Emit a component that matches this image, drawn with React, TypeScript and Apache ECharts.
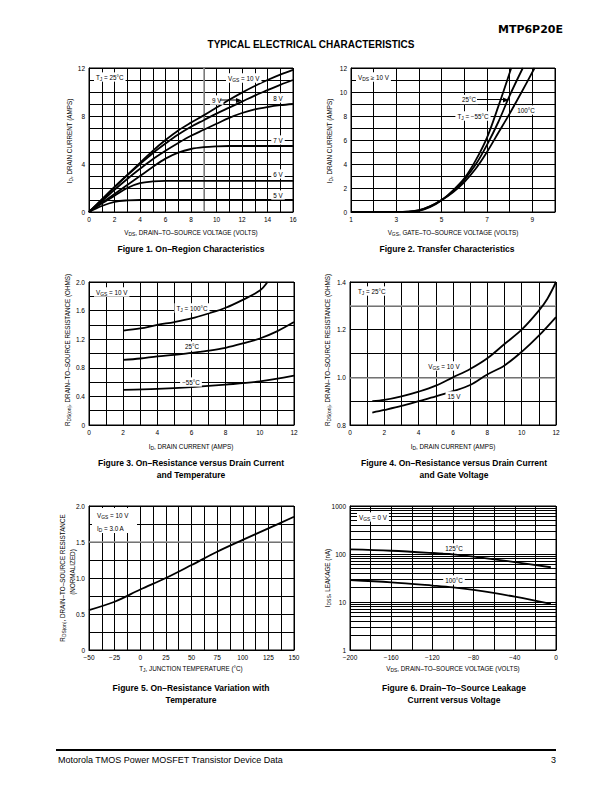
import React, { useEffect, useRef } from 'react';
import * as echarts from 'echarts';

const FONT = '"Liberation Sans", Arial, Helvetica, sans-serif';

// ---------- Figure 1: On-Region Characteristics (VDS [V], ID [A])
const f1_vgs10 = [[0,0],[1,1.05],[2,2.1],[3,3.1],[4,4.1],[5,5.1],[6,6.0],[7,6.8],[8,7.45],[9,8.05],[10,8.7],[11,9.35],[12,9.95],[13,10.5],[14,11.0],[15,11.45],[16,11.85]];
const f1_vgs9 = [[0,0],[1,1.0],[2,2.05],[3,3.05],[4,4.0],[5,4.9],[6,5.7],[7,6.45],[8,7.1],[9,7.65],[10,8.2],[11,8.7],[12,9.2],[13,9.7],[14,10.15],[15,10.6],[16,11.0]];
const f1_vgs8 = [[0,0],[1,0.9],[2,1.85],[3,2.75],[4,3.6],[5,4.4],[6,5.1],[7,5.75],[8,6.35],[9,6.85],[10,7.35],[11,7.85],[12,8.25],[13,8.55],[14,8.75],[15,8.9],[16,9.0]];
const f1_vgs7 = [[0,0],[1,0.75],[2,1.5],[3,2.25],[4,3.0],[5,3.75],[6,4.45],[7,4.95],[8,5.25],[9,5.4],[10,5.47],[11,5.5],[12,5.5],[14,5.5],[16,5.5]];
const f1_vgs6 = [[0,0],[1,0.7],[2,1.35],[3,2.0],[4,2.4],[5,2.55],[6,2.6],[8,2.6],[12,2.6],[16,2.6]];
const f1_vgs5 = [[0,0],[1,0.5],[2,0.85],[3,0.97],[4,1.0],[6,1.0],[10,1.0],[16,1.0]];
const f1_grayVds = 9;

// ---------- Figure 2: Transfer Characteristics (VGS [V], ID [A])
const f2_tjM55 = [[1,0],[2,0],[3,0],[3.5,0.01],[4,0.1],[4.5,0.42],[5,0.98],[5.5,1.8],[6,2.8],[6.5,4.3],[7,6.2],[7.5,8.8],[8.07,12]];
const f2_tj25 = [[1,0],[2,0],[3,0],[3.5,0.02],[4,0.13],[4.5,0.47],[5,1.0],[5.5,1.72],[6,2.7],[6.5,3.95],[7,5.6],[7.5,7.5],[8,9.7],[8.58,12]];
const f2_tj100 = [[1,0],[2,0],[3,0],[3.5,0.03],[4,0.16],[4.5,0.5],[5,1.0],[5.5,1.65],[6,2.5],[6.5,3.6],[7,5.0],[7.5,6.6],[8,8.2],[8.5,9.9],[9.1,12]];

// ---------- Figure 3: RDS(on) vs ID and temperature
const f3_tj100 = [[2,1.32],[3,1.35],[4,1.4],[5,1.44],[6,1.49],[7,1.56],[8,1.64],[9,1.75],[10,1.88],[10.45,2.0]];
const f3_tj25 = [[2,0.91],[3,0.93],[4,0.96],[5,0.98],[6,1.01],[7,1.04],[8,1.08],[9,1.14],[10,1.21],[11,1.31],[12,1.44]];
const f3_tjM55 = [[2,0.49],[4,0.505],[6,0.53],[8,0.565],[10,0.61],[12,0.69]];

// ---------- Figure 4: RDS(on) vs ID and gate voltage
const f4_vgs10 = [[1.3,0.9],[2,0.905],[3,0.92],[4,0.94],[5,0.965],[6,1.0],[7,1.035],[8,1.08],[9,1.14],[10,1.2],[11,1.28],[11.5,1.33],[12,1.4]];
const f4_vgs15 = [[1.3,0.852],[2,0.863],[3,0.88],[4,0.9],[5,0.92],[6,0.942],[7,0.968],[8,1.012],[9,1.05],[10,1.107],[11,1.175],[12,1.253]];
const f4_grayLines = [1.3, 1.0];

// ---------- Figure 5: normalized RDS(on) vs TJ
const f5_tj = [-50,-25,0,25,50,75,100,125,150];
const f5_rds = [0.555,0.67,0.84,1.0,1.18,1.365,1.53,1.69,1.85];
const f5_grayLines = [1.5];

// ---------- Figure 6: IDSS leakage vs VDS
const f6_vds = [-200,-160,-120,-100,-80,-40,-5];
const f6_tj125 = [125,117,105,98,88,68,53];
const f6_tj100 = [28.7,25.6,22,20.2,17.8,12.9,9.1];
const f6_minorLines = [2,3,4,5,6,7,8,9,20,30,40,50,60,70,80,90,200,300,400,500,600,700,800,900];

const grids = [
  { left: 89, top: 68, width: 204, height: 144 },
  { left: 351, top: 68, width: 204, height: 144 },
  { left: 89, top: 282, width: 205, height: 143 },
  { left: 350, top: 282, width: 206, height: 143 },
  { left: 89, top: 506, width: 205, height: 144 },
  { left: 350, top: 506, width: 206, height: 144 },
];

const isMult = (v: number, step: number) => Math.abs(v / step - Math.round(v / step)) < 1e-6;
const minus = (v: number) => (v < 0 ? '\u2212' + String(-v) : String(v));

const tickLabel = { color: '#000', fontSize: 6.5, fontFamily: FONT };

function valAxis(gi: number, min: number, max: number, interval: number, fmt: (v: number) => string) {
  return {
    type: 'value', gridIndex: gi, min, max, interval,
    axisLine: { show: true, onZero: false, lineStyle: { color: '#000', width: 1 } },
    axisTick: { show: false },
    splitLine: { show: true, lineStyle: { color: '#000', width: 1 } },
    axisLabel: { ...tickLabel, margin: 4, formatter: fmt, showMinLabel: true, showMaxLabel: true },
  };
}

function line(gi: number, data: any, extra: any = {}) {
  return {
    type: 'line', xAxisIndex: gi, yAxisIndex: gi, data, showSymbol: false, symbol: 'none',
    smooth: 0.35, silent: true,
    lineStyle: { color: '#000', width: 1.8 }, z: 5, ...extra,
  };
}

function mark(lines: any[], color: string, width: number) {
  return {
    markLine: {
      silent: true, symbol: ['none', 'none'], label: { show: false },
      lineStyle: { color, width, type: 'solid' }, emphasis: { disabled: true },
      data: lines, animation: false,
    },
  };
}

const richFor = (size: number) => ({
  s: { fontSize: size * 0.78, fontFamily: FONT, verticalAlign: 'bottom', lineHeight: size * 0.78, fill: '#000' },
});

function txt(x: number, y: number, text: string, o: any = {}) {
  const size = o.size ?? 6.3;
  const align = o.align ?? 'center';
  return {
    type: 'text', x, y, rotation: o.rot ?? 0, z: 100,
    style: {
      text, fill: '#000', fontSize: size, fontFamily: o.family ?? FONT,
      fontWeight: o.bold ? 'bold' : 'normal',
      align, textAlign: align, verticalAlign: 'middle', textVerticalAlign: 'middle',
      lineHeight: size + 3,
      rich: richFor(size),
      backgroundColor: o.bg ? '#fff' : 'transparent',
      padding: o.bg ? [0, 2, 0, 2] : 0,
    },
  };
}

function arrow(x1: number, y: number, x2: number) {
  return [
    { type: 'line', z: 100, shape: { x1, y1: y, x2: x2 - 4, y2: y }, style: { stroke: '#000', lineWidth: 1 } },
    { type: 'polygon', z: 100, shape: { points: [[x2, y + 0.5], [x2 - 6, y - 2], [x2 - 6, y + 3]] }, style: { fill: '#000' } },
  ];
}

const R90 = Math.PI / 2;

export default function App() {
  const ref = useRef<HTMLDivElement>(null);
  useEffect(() => {
    if (!ref.current) return;
    const chart = echarts.init(ref.current, null, { renderer: 'svg' });

    const xAxis = [
      valAxis(0, 0, 16, 1, (v) => (isMult(v, 2) ? String(v) : '')),
      valAxis(1, 1, 10, 1, (v) => (v % 2 === 1 ? String(v) : '')),
      valAxis(2, 0, 12, 1, (v) => (isMult(v, 2) ? String(v) : '')),
      valAxis(3, 0, 12, 1, (v) => (isMult(v, 2) ? String(v) : '')),
      valAxis(4, -50, 150, 12.5, (v) => (isMult(v, 25) ? minus(v) : '')),
      valAxis(5, -200, 0, 20, (v) => (isMult(v, 40) ? minus(v) : '')),
    ];
    const yAxis: any[] = [
      valAxis(0, 0, 12, 1, (v) => (isMult(v, 4) ? String(v) : '')),
      valAxis(1, 0, 12, 1, (v) => (isMult(v, 2) ? String(v) : '')),
      valAxis(2, 0, 2, 0.2, (v) => (isMult(v, 0.4) ? (Math.abs(v) < 1e-9 ? '0' : v.toFixed(1)) : '')),
      valAxis(3, 0.8, 1.4, 0.1, (v) => (isMult(v, 0.2) ? v.toFixed(1) : '')),
      valAxis(4, 0, 2, 0.25, (v) => (isMult(v, 0.5) ? (Math.abs(v) < 1e-9 ? '0' : v.toFixed(1)) : '')),
      {
        type: 'log', logBase: 10, gridIndex: 5, min: 1, max: 1000,
        axisLine: { show: true, onZero: false, lineStyle: { color: '#000', width: 1 } },
        axisTick: { show: false },
        splitLine: { show: true, lineStyle: { color: '#000', width: 1 } },
        axisLabel: { ...tickLabel, margin: 4, formatter: (v: number) => String(Math.round(v)) },
      },
    ];

    const series = [
      line(0, f1_vgs5, mark([{ xAxis: f1_grayVds }], '#9a9a9a', 1.6)),
      line(0, f1_vgs6), line(0, f1_vgs7), line(0, f1_vgs8), line(0, f1_vgs9), line(0, f1_vgs10),
      line(1, f2_tjM55), line(1, f2_tj25), line(1, f2_tj100),
      line(2, f3_tj100), line(2, f3_tj25), line(2, f3_tjM55),
      line(3, f4_vgs10, mark(f4_grayLines.map((v) => ({ yAxis: v })), '#9a9a9a', 1.6)), line(3, f4_vgs15),
      line(4, f5_tj.map((t, i) => [t, f5_rds[i]]), mark(f5_grayLines.map((v) => ({ yAxis: v })), '#9a9a9a', 1.6)),
      line(5, f6_vds.map((v, i) => [v, f6_tj125[i]]), mark(f6_minorLines.map((v) => ({ yAxis: v })), '#000', 1)),
      line(5, f6_vds.map((v, i) => [v, f6_tj100[i]])),
    ];

    const graphic: any[] = [
      // header
      txt(563, 29, 'MTP6P20E', { size: 11, bold: true, align: 'right', family: '"DejaVu Sans", sans-serif' }),
      txt(311, 44, 'TYPICAL ELECTRICAL CHARACTERISTICS', { size: 10, bold: true }),
      // footer
      { type: 'line', z: 100, shape: { x1: 56, y1: 750, x2: 556, y2: 750 }, style: { stroke: '#000', lineWidth: 2 } },
      txt(58, 760, 'Motorola TMOS Power MOSFET Transistor Device Data', { size: 9, align: 'left' }),
      txt(556, 760, '3', { size: 9, align: 'right' }),

      // Figure 1
      txt(191, 232, 'V{s|DS}, DRAIN\u2013TO\u2013SOURCE VOLTAGE (VOLTS)'),
      txt(69, 141, 'I{s|D}, DRAIN CURRENT (AMPS)', { rot: R90 }),
      txt(94, 77, 'T{s|J} = 25°C', { align: 'left', bg: true }),
      txt(226, 78, 'V{s|GS} = 10 V', { align: 'left', bg: true }),
      txt(210, 100, '9 V', { align: 'left', bg: true }),
      ...arrow(220, 100, 242),
      txt(278, 98, '8 V', { bg: true }),
      txt(278, 140, '7 V', { bg: true }),
      txt(278, 174, '6 V', { bg: true }),
      txt(278, 195, '5 V', { bg: true }),
      txt(191, 249, 'Figure 1. On\u2013Region Characteristics', { size: 8.5, bold: true }),

      // Figure 2
      txt(453, 232, 'V{s|GS}, GATE\u2013TO\u2013SOURCE VOLTAGE (VOLTS)'),
      txt(329, 141, 'I{s|D}, DRAIN CURRENT (AMPS)', { rot: R90 }),
      txt(356, 77, 'V{s|DS} \u2265 10 V', { align: 'left', bg: true }),
      txt(469, 99.5, '25°C', { bg: true }),
      ...arrow(477, 99.5, 509),
      txt(473, 116, 'T{s|J} = \u221255°C', { bg: true }),
      txt(526, 110, '100°C', { bg: true }),
      txt(447, 249, 'Figure 2. Transfer Characteristics', { size: 8.5, bold: true }),

      // Figure 3
      txt(191, 446, 'I{s|D}, DRAIN CURRENT (AMPS)'),
      txt(67, 350, 'R{s|DS(on)}, DRAIN\u2013TO\u2013SOURCE RESISTANCE (OHMS)', { rot: R90 }),
      txt(94, 292, 'V{s|GS} = 10 V', { align: 'left', bg: true }),
      txt(192, 308, 'T{s|J} = 100°C', { bg: true }),
      txt(192, 346, '25°C', { bg: true }),
      txt(191, 382, '\u221255°C', { bg: true }),
      txt(191, 463, 'Figure 3. On\u2013Resistance versus Drain Current', { size: 8.5, bold: true }),
      txt(191, 475, 'and Temperature', { size: 8.5, bold: true }),

      // Figure 4
      txt(453, 446, 'I{s|D}, DRAIN CURRENT (AMPS)'),
      txt(327, 350, 'R{s|DS(on)}, DRAIN\u2013TO\u2013SOURCE RESISTANCE (OHMS)', { rot: R90 }),
      txt(356, 291, 'T{s|J} = 25°C', { align: 'left', bg: true }),
      txt(444, 366, 'V{s|GS} = 10 V', { bg: true }),
      txt(454, 396, '15 V', { bg: true }),
      txt(454, 463, 'Figure 4. On\u2013Resistance versus Drain Current', { size: 8.5, bold: true }),
      txt(454, 475, 'and Gate Voltage', { size: 8.5, bold: true }),

      // Figure 5
      txt(191, 668, 'T{s|J}, JUNCTION TEMPERATURE (°C)'),
      txt(62, 578, 'R{s|DS(on)}, DRAIN\u2013TO\u2013SOURCE RESISTANCE', { rot: R90 }),
      txt(72, 572, '(NORMALIZED)', { rot: R90 }),
      { type: 'rect', z: 99, shape: { x: 92, y: 508, width: 45, height: 25 }, style: { fill: '#fff' } },
      txt(97, 515, 'V{s|GS} = 10 V', { align: 'left' }),
      txt(97, 528, 'I{s|D} = 3.0 A', { align: 'left' }),
      txt(191, 688, 'Figure 5. On\u2013Resistance Variation with', { size: 8.5, bold: true }),
      txt(191, 700, 'Temperature', { size: 8.5, bold: true }),

      // Figure 6
      txt(453, 668, 'V{s|DS}, DRAIN\u2013TO\u2013SOURCE VOLTAGE (VOLTS)'),
      txt(327, 578, 'I{s|DSS}, LEAKAGE (nA)', { rot: R90 }),
      txt(357, 517, 'V{s|GS} = 0 V', { align: 'left', bg: true }),
      txt(454, 548, '125°C', { bg: true }),
      txt(454, 580, '100°C', { bg: true }),
      txt(454, 688, 'Figure 6. Drain\u2013To\u2013Source Leakage', { size: 8.5, bold: true }),
      txt(454, 700, 'Current versus Voltage', { size: 8.5, bold: true }),
    ];

    chart.setOption({
      animation: false,
      backgroundColor: '#fff',
      textStyle: { fontFamily: FONT },
      grid: grids.map((g) => ({ ...g, show: true, borderColor: '#000', borderWidth: 1, backgroundColor: '#fff' })),
      xAxis,
      yAxis,
      series,
      graphic,
    });
    return () => chart.dispose();
  }, []);

  return <div ref={ref} style={{ position: 'absolute', left: 0, top: 0, width: 612, height: 792, background: '#fff' }} />;
}
